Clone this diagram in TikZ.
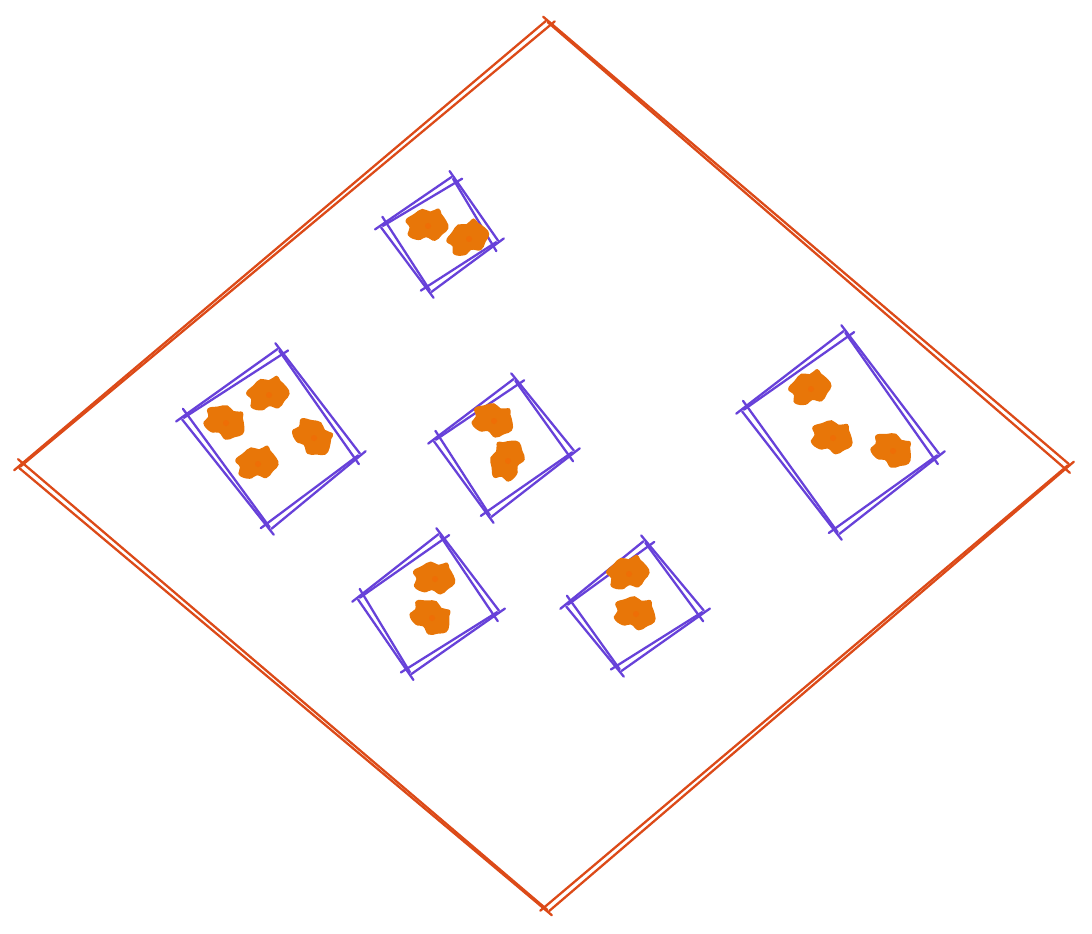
\documentclass[tikz,border=0pt]{standalone}
\usepackage{xcolor}
\definecolor{skred}{RGB}{220,74,24}
\definecolor{skviolet}{RGB}{103,65,217}
\definecolor{skorange}{RGB}{232,118,8}
\usetikzlibrary{calc}

% gap between the two strokes and how far they run past the corners
\def\sketchgap{0.07cm}
\def\sketchrun{0.06cm}
% one sketched edge: two strokes, meeting at one end, apart at the other
\newcommand{\sketchedge}[2]{%
  \coordinate (p1) at ($(#1)!0.2*\sketchgap!-90:(#2)$);
  \coordinate (p2) at ($(#2)!\sketchgap!90:(#1)$);
  \draw ($(#1)!-\sketchrun!(#2)$) -- ($(#2)!0.3*\sketchrun!(#1)$);
  \draw ($(p1)!0.4*\sketchrun!(p2)$) -- ($(p2)!-\sketchrun!(p1)$);}
\newcommand{\sketchquad}[4]{%
  \sketchedge{#1}{#2}\sketchedge{#2}{#3}\sketchedge{#3}{#4}\sketchedge{#4}{#1}}
% one orange lump
\newcommand{\lump}[2]{%
  \fill[lumpfill, shift={(#1)}, rotate=#2, scale=1.1] plot[smooth cycle, tension=0.8] coordinates
    {(0.18,0.02) (0.14,0.09) (0.12,0.14) (0.04,0.12) (-0.03,0.15)
     (-0.11,0.11) (-0.19,0.06) (-0.16,-0.01) (-0.18,-0.08) (-0.09,-0.13)
     (-0.02,-0.11) (0.06,-0.15) (0.13,-0.10) (0.19,-0.05)};
  \fill[lumpdot, shift={(#1)}] (0.01,-0.01) circle (0.03);}

\begin{document}
\begin{tikzpicture}[
  line cap=round, line join=round,
  board/.style={draw=skred, line width=0.65pt},
  tray/.style={draw=skviolet, line width=0.65pt},
  lumpfill/.style={fill=skorange},
  lumpdot/.style={fill=skorange!80!red!90!yellow},
]
\useasboundingbox (0,0) rectangle (10.92,-9.33);

% --- board ---
\coordinate (bt) at (5.47,-0.20);
\coordinate (br) at (10.70,-4.65);
\coordinate (bb) at (5.48,-9.12);
\coordinate (bl) at (0.18,-4.67);
\begin{scope}[board]
  \def\sketchgap{0.06cm}\def\sketchrun{0.05cm}
  \sketchquad{bt}{br}{bb}{bl}
\end{scope}

% --- trays ---
\coordinate (a1) at (3.80,-2.26); \coordinate (a2) at (4.53,-1.76);
\coordinate (a3) at (4.99,-2.42); \coordinate (a4) at (4.30,-2.93);
\coordinate (b1) at (1.81,-4.18); \coordinate (b2) at (2.79,-3.48);
\coordinate (b3) at (3.61,-4.55); \coordinate (b4) at (2.70,-5.30);
\coordinate (c1) at (4.33,-4.40); \coordinate (c2) at (5.15,-3.78);
\coordinate (c3) at (5.75,-4.52); \coordinate (c4) at (4.90,-5.18);
\coordinate (d1) at (7.41,-4.10); \coordinate (d2) at (8.45,-3.30);
\coordinate (d3) at (9.40,-4.55); \coordinate (d4) at (8.38,-5.35);
\coordinate (e1) at (3.57,-5.98); \coordinate (e2) at (4.40,-5.33);
\coordinate (e3) at (5.00,-6.12); \coordinate (e4) at (4.10,-6.75);
\coordinate (f1) at (5.65,-6.05); \coordinate (f2) at (6.45,-5.40);
\coordinate (f3) at (7.05,-6.12); \coordinate (f4) at (6.20,-6.72);
\begin{scope}[tray]
  \sketchquad{a1}{a2}{a3}{a4}
  \sketchquad{b1}{b2}{b3}{b4}
  \sketchquad{c1}{c2}{c3}{c4}
  \sketchquad{d1}{d2}{d3}{d4}
  \sketchquad{e1}{e2}{e3}{e4}
  \sketchquad{f1}{f2}{f3}{f4}
\end{scope}

% --- lumps ---
\lump{4.27,-2.25}{5}   \lump{4.68,-2.38}{25}
\lump{2.68,-3.94}{15}  \lump{2.25,-4.22}{-20}
\lump{3.13,-4.37}{-40} \lump{2.57,-4.63}{10}
\lump{4.93,-4.20}{-15} \lump{5.07,-4.60}{70}
\lump{8.10,-3.88}{20}  \lump{8.32,-4.37}{-10} \lump{8.92,-4.50}{-25}
\lump{4.34,-5.78}{0}   \lump{4.31,-6.17}{-30}
\lump{6.28,-5.73}{15}  \lump{6.35,-6.13}{-10}
\end{tikzpicture}
\end{document}
